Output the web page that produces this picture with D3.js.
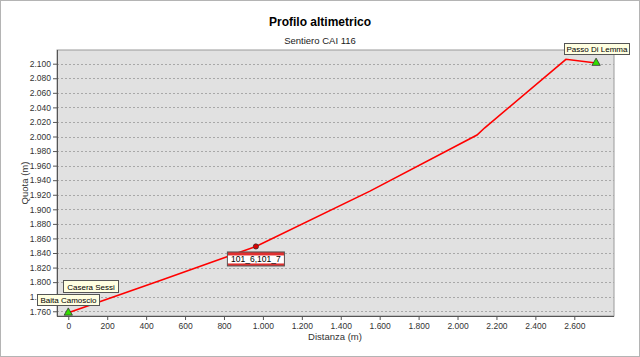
<!DOCTYPE html>
<html><head><meta charset="utf-8">
<script src="https://cdn.jsdelivr.net/npm/d3@7"></script>
<style>
body{margin:0;background:#fff;}
text{font-family:"Liberation Sans",Arial,sans-serif;}
</style></head>
<body>
<script>
// data
const distance = [0, 480, 964, 1550, 2100, 2140, 2557, 2712];
const altitude = [1758, 1803, 1849, 1925, 2002, 2012, 2106, 2101];
const yTicks = [1760,1780,1800,1820,1840,1860,1880,1900,1920,1940,1960,1980,2000,2020,2040,2060,2080,2100];
const xTicks = [0,200,400,600,800,1000,1200,1400,1600,1800,2000,2200,2400,2600];
const waypointNames = ["Baita Camoscio", "Casera Sessi", "Passo Di Lemma"];
const waypointDist = [0, 0, 2712];
const waypointAlt = [1758, 1758, 2101];
const markerLabel = "101_6,101_7";
const markerDist = [964];
const markerAlt = [1849];

const W = 640, H = 357;
const m = {left:57, right:614, top:50, bottom:316};
const svg = d3.select("body").append("svg").attr("width",W).attr("height",H);
svg.append("rect").attr("x",0.5).attr("y",0.5).attr("width",W-1).attr("height",H-1)
  .attr("fill","#fff").attr("stroke","#b4b4b4");

const loc = d3.formatLocale({decimal:",", thousands:".", grouping:[3], currency:["","€"]});
const fmt = loc.format(",d");

const x = d3.scaleLinear().domain([-58, 2804]).range([m.left, m.right]);
const y = d3.scaleLinear().domain([1753.5, 2118.8]).range([m.bottom, m.top]);

svg.append("text").attr("x",320).attr("y",26).attr("text-anchor","middle")
  .attr("font-size",12).attr("font-weight","bold").attr("fill","#000").text("Profilo altimetrico");
svg.append("text").attr("x",320).attr("y",44).attr("text-anchor","middle")
  .attr("font-size",9.5).attr("fill","#222").text("Sentiero CAI 116");

// plot area
svg.append("rect").attr("x",m.left).attr("y",m.top).attr("width",m.right-m.left).attr("height",m.bottom-m.top)
  .attr("fill","#e1e1e1").attr("stroke","#9a9a9a");

// grid
svg.append("g").selectAll("line").data(yTicks).join("line")
  .attr("x1",m.left).attr("x2",m.right)
  .attr("y1",d=>Math.round(y(d))+0.5).attr("y2",d=>Math.round(y(d))+0.5)
  .attr("stroke","#a8a8a8").attr("stroke-dasharray","2,2");

// axes
const yAxis = d3.axisLeft(y).tickValues(yTicks).tickFormat(fmt).tickSize(4).tickPadding(2);
const gy = svg.append("g").attr("transform",`translate(${m.left},0)`).call(yAxis);
const xAxis = d3.axisBottom(x).tickValues(xTicks).tickFormat(fmt).tickSize(4).tickPadding(3);
const gx = svg.append("g").attr("transform",`translate(0,${m.bottom})`).call(xAxis);
[gx,gy].forEach(g=>{
  g.select(".domain").remove();
  g.selectAll("text").attr("font-size",8.5).attr("fill","#333").attr("font-family","Liberation Sans, Arial, sans-serif");
  g.selectAll(".tick line").attr("stroke","#555");
});
svg.append("line").attr("x1",m.left+0.5).attr("x2",m.left+0.5).attr("y1",m.top).attr("y2",m.bottom+1).attr("stroke","#555");
svg.append("line").attr("x1",m.left).attr("x2",m.right).attr("y1",m.bottom+0.5).attr("y2",m.bottom+0.5).attr("stroke","#555");

svg.append("text").attr("transform",`translate(28,${(m.top+m.bottom)/2}) rotate(-90)`)
  .attr("text-anchor","middle").attr("font-size",9.5).attr("fill","#333").text("Quota (m)");
svg.append("text").attr("x",335).attr("y",340).attr("text-anchor","middle")
  .attr("font-size",9.5).attr("fill","#333").text("Distanza (m)");

// line
const pts = distance.map((d,i)=>[d, altitude[i]]);
svg.append("path").datum(pts)
  .attr("d", d3.line().x(d=>x(d[0])).y(d=>y(d[1])))
  .attr("fill","none").attr("stroke","#ff0000").attr("stroke-width",1.6);

// triangles at start and end
const tri = d3.symbol().type(d3.symbolTriangle).size(30);
svg.append("g").selectAll("path").data([0,2]).join("path")
  .attr("d",tri).attr("transform",i=>`translate(${x(waypointDist[i])},${y(waypointAlt[i])})`)
  .attr("fill","#33dd00").attr("stroke","#333").attr("stroke-width",0.8);

// marker dot
svg.append("circle").attr("cx",x(markerDist[0])).attr("cy",y(markerAlt[0])).attr("r",2.6)
  .attr("fill","#dd0000").attr("stroke","#333").attr("stroke-width",0.8);

// marker label box
(function(){
  const bx = x(markerDist[0]) - 29, by = y(markerAlt[0]) + 5, bw = 57, bh = 14;
  const g = svg.append("g");
  g.append("rect").attr("x",bx+0.5).attr("y",by+0.5).attr("width",bw).attr("height",bh).attr("fill","#e03030").attr("stroke","#555");
  g.append("rect").attr("x",bx+1).attr("y",by+4).attr("width",bw-1).attr("height",bh-6).attr("fill","#fff");
  g.append("text").attr("x",bx+bw/2+0.5).attr("y",by+11).attr("text-anchor","middle").attr("font-size",8.5).attr("fill","#000").text(markerLabel);
})();

// waypoint tooltip labels
const tipPos = [[37,294,62,11],[63,280,55,12],[564,43,65,11]];
const order = [1,0,2];
order.forEach(i=>{
  const [bx,by,bw,bh] = tipPos[i];
  svg.append("rect").attr("x",bx+0.5).attr("y",by+0.5).attr("width",bw).attr("height",bh)
    .attr("fill","#ffffe1").attr("stroke","#555");
  svg.append("text").attr("x",bx+bw/2+0.5).attr("y",by+bh-2.5).attr("text-anchor","middle")
    .attr("font-size",8).attr("fill","#000").text(waypointNames[i]);
});
</script>
</body></html>
